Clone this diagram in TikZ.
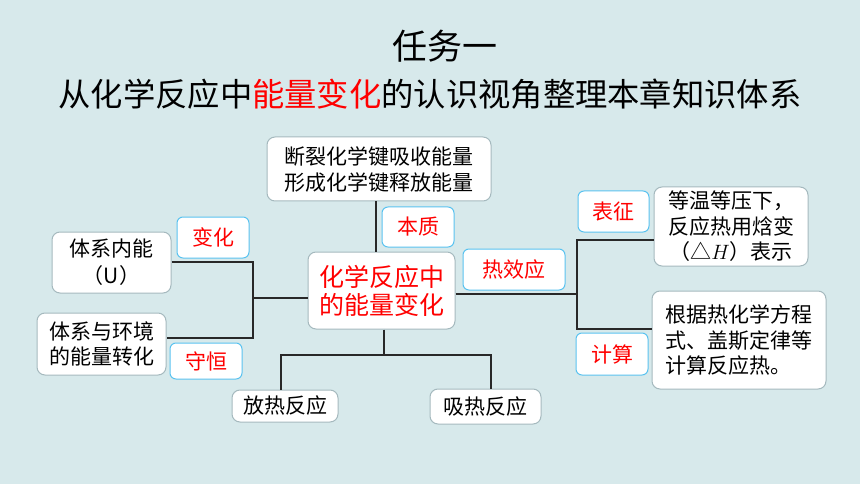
\documentclass[tikz,border=0pt]{standalone}
\usepackage{fontspec}
\setmainfont{Noto Sans CJK SC}
\definecolor{bg}{RGB}{215,233,235}
\definecolor{boxline}{RGB}{165,185,190}
\definecolor{lblline}{RGB}{90,195,240}
\definecolor{connc}{RGB}{40,40,40}
\definecolor{redtxt}{RGB}{255,0,0}
\tikzset{
  box/.style={draw=boxline, line width=1pt, fill=white, rounded corners=8pt, inner sep=0pt, align=center, font=\fontsize{21}{25.5}\selectfont, text=black},
  lbl/.style={draw=lblline, line width=1pt, fill=white, rounded corners=6pt, inner sep=0pt, align=center, font=\fontsize{21}{25.5}\selectfont, text=redtxt},
  conn/.style={draw=connc, line width=1.6pt},
  titletext/.style={inner sep=0pt, text=black},
}
\begin{document}
\begin{tikzpicture}[x=1pt,y=-1pt]
\fill[bg] (0,0) rectangle (860,484);
\useasboundingbox (0,0) rectangle (860,484);

% titles
\node[titletext, font=\fontsize{35}{40}\selectfont] (t1) at (445,46) {任务一};
\node[titletext, font=\fontsize{32.3}{38}\selectfont] (t2) at (430,94) {从化学反应中\textcolor{redtxt}{能量变化}的认识视角整理本章知识体系};

% main nodes
\node[box, minimum width=224, minimum height=64] (top) at (379,169) {断裂化学键吸收能量\\[0.5pt]形成化学键释放能量};
\node[box, minimum width=147, minimum height=77, text=redtxt, font=\fontsize{25}{28}\selectfont] (center) at (381.5,290.5) {化学反应中\\的能量变化};
\node[box, minimum width=154, minimum height=79] (dengwen) at (731,226.5) {等温等压下，\\反应热用焓变\\（△$H$）表示};
\node[box, minimum width=174, minimum height=98, align=left] (genju) at (739,340) {根据热化学方程\\式、盖斯定律等\\计算反应热。};
\node[box, minimum width=119, minimum height=61, font=\fontsize{21}{27}\selectfont] (neineng) at (111.5,262.5) {体系内能\\（U）};
\node[box, minimum width=129, minimum height=62] (huanjing) at (101.5,344) {体系与环境\\的能量转化};
\node[box, minimum width=106, minimum height=32] (fangre) at (285,406) {放热反应};
\node[box, minimum width=111, minimum height=35] (xire) at (485.5,406.5) {吸热反应};

% labels
\node[lbl, minimum width=72, minimum height=40] (benzhi) at (418,227) {本质};
\node[lbl, minimum width=102, minimum height=41] (rexiao) at (514,269.5) {热效应};
\node[lbl, minimum width=71, minimum height=41] (biaozheng) at (613.5,211.5) {表征};
\node[lbl, minimum width=72, minimum height=42] (jisuan) at (612,354) {计算};
\node[lbl, minimum width=72, minimum height=41] (bianhua) at (213,237.5) {变化};
\node[lbl, minimum width=72, minimum height=36] (shouheng) at (206,361) {守恒};

% connector coordinates
\coordinate (vx) at (376,0);
\coordinate (rj) at (577,294);
\coordinate (rt) at (577,240);
\coordinate (rb) at (577,329);
\coordinate (lj) at (253,298);
\coordinate (lt) at (253,262);
\coordinate (lb) at (253,338);
\coordinate (bt) at (384,355);
\coordinate (bl) at (281,355);
\coordinate (br) at (491,355);

% connectors
\draw[conn] (top.south -| vx) -- (center.north -| vx);
\draw[conn] (rj -| center.east) -- (rj);
\draw[conn] (rt -| dengwen.west) -- (rt) -- (rb) -- (rb -| genju.west);
\draw[conn] (lj -| center.west) -- (lj);
\draw[conn] (lt -| neineng.east) -- (lt) -- (lb) -- (lb -| huanjing.east);
\draw[conn] (center.south -| bt) -- (bt);
\draw[conn] (fangre.north -| bl) -- (bl) -- (br) -- (xire.north -| br);
\end{tikzpicture}
\end{document}
